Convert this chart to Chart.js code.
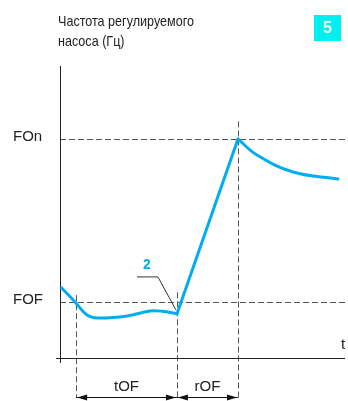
<!DOCTYPE html>
<html>
<head>
<meta charset="utf-8">
<script src="https://cdn.jsdelivr.net/npm/chart.js@4"></script>
<style>
  body { margin: 0; background: #fff; }
  canvas { display: block; }
</style>
</head>
<body>
<canvas id="pumpChart" width="348" height="401"></canvas>
<script>
// time runs 0..100, frequency 0..100 (arbitrary units)
const dipT = [0.6, 5.2, 9.4, 13.2, 23.3, 31.2, 35.5, 40.6];
const dipF = [24.0, 19.2, 14.7, 13.7, 14.4, 16.1, 16.0, 15.1];
const rampT = [40.6, 61.8];
const rampF = [15.1, 75.0];
const decayT = [61.8, 68.4, 80.9, 96.5];
const decayF = [75.0, 69.5, 63.7, 61.3];

const levelLabels = ['FOn', 'FOF'];
const levelValues = [75.0, 19.2];
const markT = [5.6, 40.6, 61.8];
const markTop = [21.5, 22.5, 81.0];
const spanLabels = ['tOF', 'rOF'];

const titleLines = ['Частота регулируемого', 'насоса (Гц)'];
const BLUE = '#00aeef';

function toPoints(ts, fs) {
    return ts.map((t, i) => ({ x: t, y: fs[i] }));
}

const diagram = {
    id: 'diagram',
    beforeDatasetsDraw(chart) {
        const ctx = chart.ctx;
        const xs = chart.scales.x;
        const ys = chart.scales.y;
        const x0 = xs.getPixelForValue(0);
        const y0 = ys.getPixelForValue(0);
        const bottom = chart.height - 3;

        ctx.save();
        ctx.strokeStyle = '#555';
        ctx.lineWidth = 1;
        ctx.setLineDash([6, 3]);

        // horizontal level lines
        levelValues.forEach(v => {
            const y = Math.round(ys.getPixelForValue(v)) + 0.5;
            ctx.beginPath();
            ctx.moveTo(x0, y);
            ctx.lineTo(chart.width, y);
            ctx.stroke();
        });

        // vertical marks
        markT.forEach((t, i) => {
            const x = Math.round(xs.getPixelForValue(t)) + 0.5;
            ctx.beginPath();
            ctx.moveTo(x, ys.getPixelForValue(markTop[i]));
            ctx.lineTo(x, bottom);
            ctx.stroke();
        });
        ctx.setLineDash([]);

        // axes
        ctx.strokeStyle = '#222';
        ctx.beginPath();
        ctx.moveTo(Math.round(x0) + 0.5, chart.chartArea.top);
        ctx.lineTo(Math.round(x0) + 0.5, y0 + 5);
        ctx.moveTo(x0 - 4, Math.round(y0) + 0.5);
        ctx.lineTo(chart.chartArea.right - 3, Math.round(y0) + 0.5);
        ctx.stroke();

        // leader line for label 2
        const px = xs.getPixelForValue(rampT[0]);
        const py = ys.getPixelForValue(rampF[0]);
        ctx.strokeStyle = '#333';
        ctx.beginPath();
        ctx.moveTo(px - 40, py - 37);
        ctx.lineTo(px - 19, py - 37);
        ctx.lineTo(px - 1, py - 4);
        ctx.stroke();

        // dimension arrows
        const ay = bottom - 0.5;
        ctx.strokeStyle = '#111';
        ctx.beginPath();
        ctx.moveTo(xs.getPixelForValue(markT[0]), ay);
        ctx.lineTo(xs.getPixelForValue(markT[2]), ay);
        ctx.stroke();
        ctx.fillStyle = '#111';
        const head = (x, dir) => {
            ctx.beginPath();
            ctx.moveTo(x, ay);
            ctx.lineTo(x + dir * 10, ay - 3);
            ctx.lineTo(x + dir * 10, ay + 3);
            ctx.closePath();
            ctx.fill();
        };
        for (let i = 0; i < spanLabels.length; i++) {
            head(xs.getPixelForValue(markT[i]) + 1, 1);
            head(xs.getPixelForValue(markT[i + 1]) - 1, -1);
        }
        ctx.restore();
    },
    afterDraw(chart) {
        const ctx = chart.ctx;
        const xs = chart.scales.x;
        const ys = chart.scales.y;
        ctx.save();
        ctx.fillStyle = '#222';
        ctx.textBaseline = 'middle';

        ctx.font = '15px "Liberation Sans", Arial, sans-serif';
        ctx.textAlign = 'left';
        levelLabels.forEach((l, i) => {
            ctx.fillText(l, 13, ys.getPixelForValue(levelValues[i]) - 2);
        });
        ctx.fillText('t', 341, ys.getPixelForValue(0) - 13);

        ctx.textAlign = 'center';
        spanLabels.forEach((l, i) => {
            const mid = (xs.getPixelForValue(markT[i]) + xs.getPixelForValue(markT[i + 1])) / 2;
            ctx.fillText(l, mid, 387);
        });

        // label 2
        ctx.fillStyle = BLUE;
        ctx.font = 'bold 14px "Liberation Sans", Arial, sans-serif';
        ctx.fillText('2', xs.getPixelForValue(rampT[0]) - 30, ys.getPixelForValue(rampF[0]) - 49);

        // title, condensed like the original
        ctx.fillStyle = '#222';
        ctx.textAlign = 'left';
        ctx.textBaseline = 'alphabetic';
        ctx.font = '15px "Liberation Sans", Arial, sans-serif';
        const squeeze = 136 / ctx.measureText(titleLines[0]).width;
        ctx.save();
        ctx.translate(58, 0);
        ctx.scale(squeeze, 1);
        ctx.fillText(titleLines[0], 0, 26);
        ctx.fillText(titleLines[1], 0, 46);
        ctx.restore();

        // page badge
        ctx.fillStyle = '#00f0f0';
        ctx.fillRect(314, 15, 27, 26);
        ctx.fillStyle = '#fff';
        ctx.font = 'bold 16px "Liberation Sans", Arial, sans-serif';
        ctx.textAlign = 'center';
        ctx.textBaseline = 'middle';
        ctx.fillText('5', 327.5, 28.5);
        ctx.restore();
    }
};

const lineStyle = {
    borderColor: BLUE,
    borderWidth: 3,
    pointRadius: 0,
    fill: false,
    borderCapStyle: 'round',
    borderJoinStyle: 'round'
};

new Chart(document.getElementById('pumpChart'), {
    type: 'line',
    data: {
        datasets: [
            { ...lineStyle, data: toPoints(dipT, dipF), tension: 0.4 },
            { ...lineStyle, data: toPoints(rampT, rampF), tension: 0 },
            { ...lineStyle, data: toPoints(decayT, decayF), tension: 0.4 }
        ]
    },
    options: {
        responsive: false,
        animation: false,
        layout: { padding: { left: 60, right: 0, top: 66, bottom: 43 } },
        plugins: {
            legend: { display: false },
            tooltip: { enabled: false }
        },
        scales: {
            x: { type: 'linear', min: 0, max: 100, display: false },
            y: { min: 0, max: 100, display: false }
        }
    },
    plugins: [diagram]
});
</script>
</body>
</html>
